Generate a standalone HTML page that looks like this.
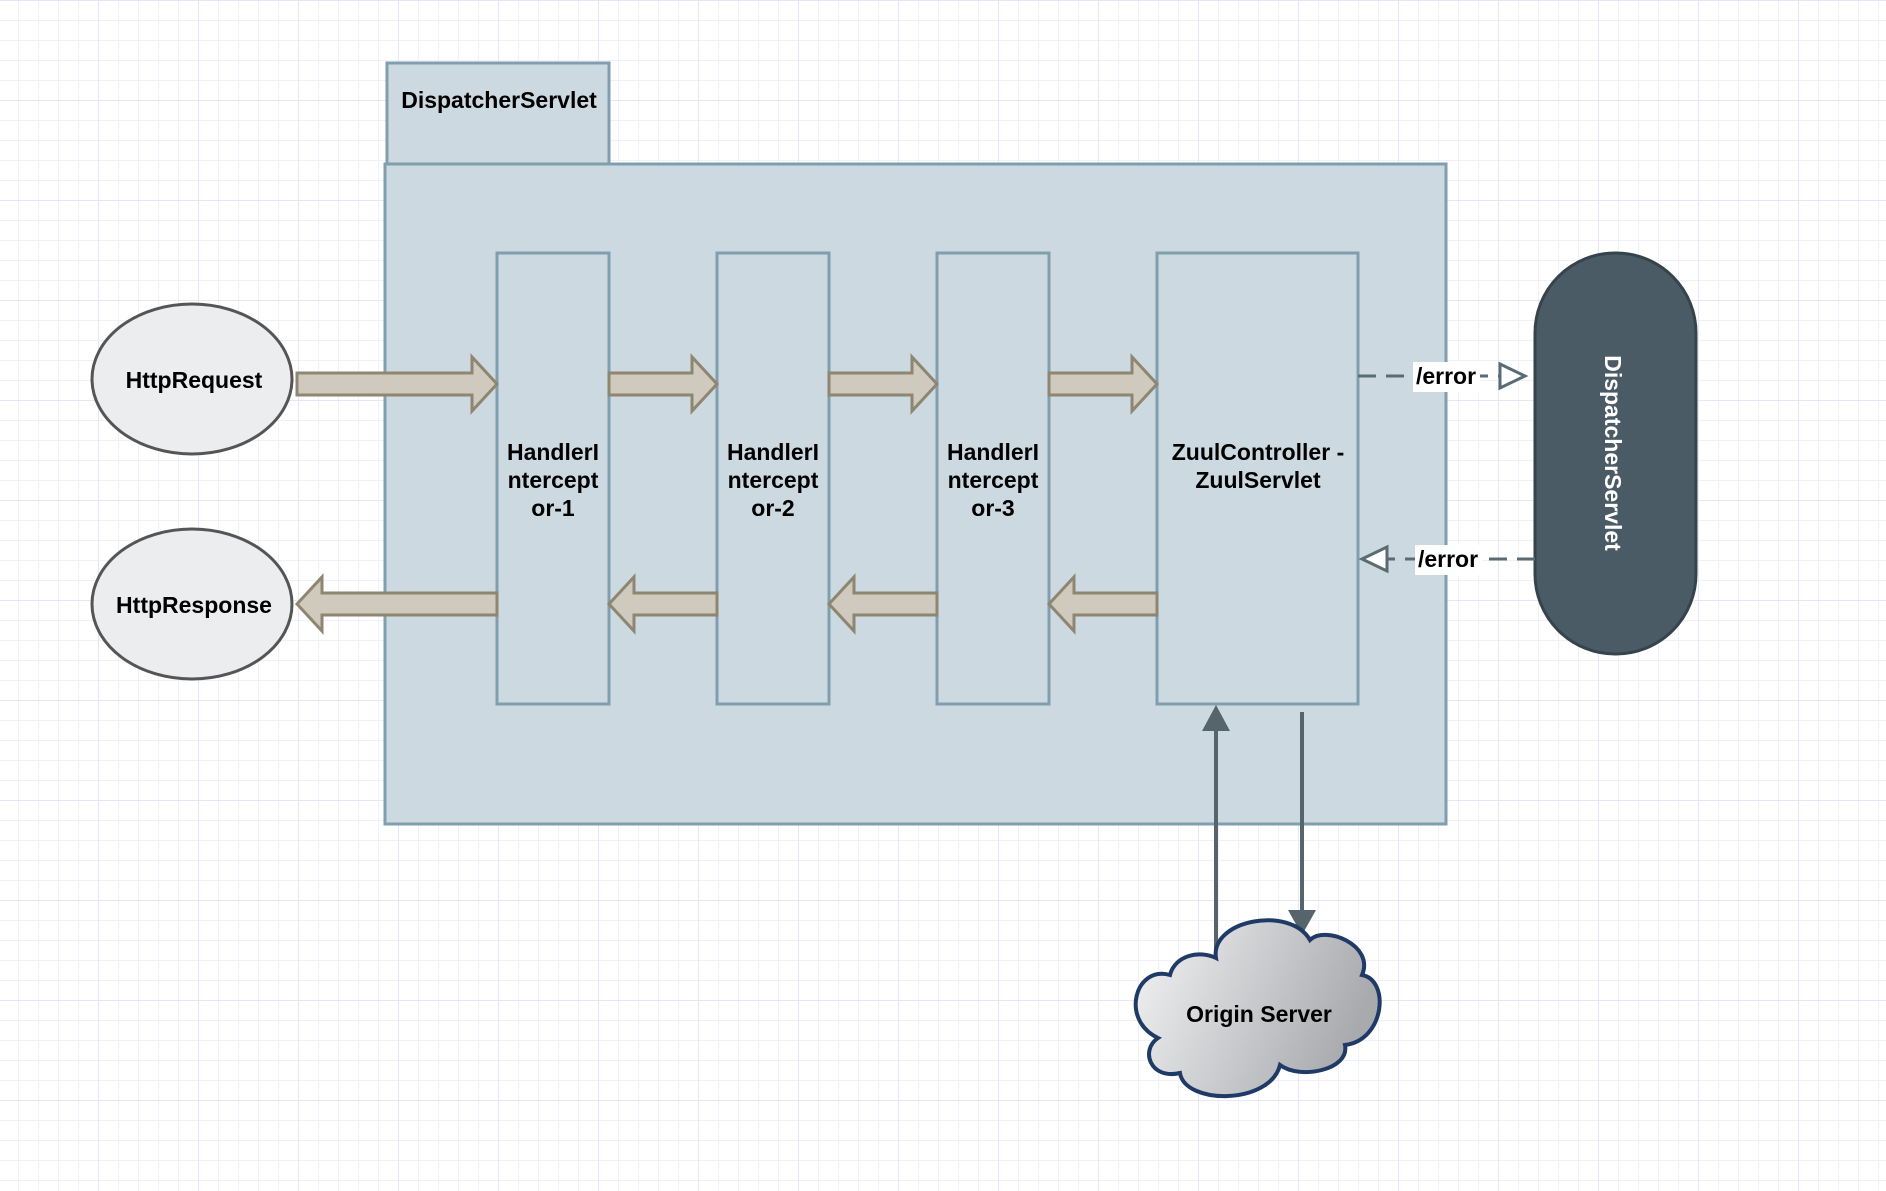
<!DOCTYPE html>
<html><head><style>
html,body{margin:0;padding:0;}
body{width:1886px;height:1186px;overflow:hidden;background:#fff;
background-image:linear-gradient(#e6e6f8 1px,transparent 1px),linear-gradient(90deg,#e6e6f8 1px,transparent 1px),linear-gradient(#f0f0fb 1px,transparent 1px),linear-gradient(90deg,#f0f0fb 1px,transparent 1px);
background-size:100px 100px,100px 100px,20px 20px,20px 20px;background-position:-2px 0,-2px 0,-2px 0,-2px 0;}
svg text{font-family:"Liberation Sans",sans-serif;font-weight:bold;}
</style></head><body>
<svg width="1886" height="1186" xmlns="http://www.w3.org/2000/svg">
<defs>
<linearGradient id="cg" x1="0" y1="0" x2="1" y2="0.3">
<stop offset="0" stop-color="#f4f4f6"/><stop offset="1" stop-color="#a8aaad"/></linearGradient>
</defs>
<rect x="387" y="63" width="222" height="101" fill="#ccd9e0" stroke="#7f9eae" stroke-width="3"/>
<text x="499" y="108" font-size="23" text-anchor="middle">DispatcherServlet</text>
<rect x="385" y="164" width="1061" height="660" fill="#ccd9e0" stroke="#7f9eae" stroke-width="3"/>
<g fill="#ccd9e0" stroke="#7f9eae" stroke-width="3">
<rect x="497" y="253" width="112" height="451"/>
<rect x="717" y="253" width="112" height="451"/>
<rect x="937" y="253" width="112" height="451"/>
<rect x="1157" y="253" width="201" height="451"/>
</g>
<g font-size="23" text-anchor="middle">
<text x="553" y="460">HandlerI</text><text x="553" y="488">ntercept</text><text x="553" y="516">or-1</text>
<text x="773" y="460">HandlerI</text><text x="773" y="488">ntercept</text><text x="773" y="516">or-2</text>
<text x="993" y="460">HandlerI</text><text x="993" y="488">ntercept</text><text x="993" y="516">or-3</text>
<text x="1258" y="460">ZuulController -</text><text x="1258" y="488">ZuulServlet</text>
</g>
<g fill="#ecedee" stroke="#555" stroke-width="3">
<ellipse cx="192" cy="379" rx="100" ry="75"/>
<ellipse cx="192" cy="604" rx="100" ry="75"/>
</g>
<text x="194" y="388" font-size="23" text-anchor="middle">HttpRequest</text>
<text x="194" y="613" font-size="23" text-anchor="middle">HttpResponse</text>
<g fill="#cfcabd" stroke="#8e8670" stroke-width="3">
<polygon points="297,373 472,373 472,357 497,384 472,411 472,395 297,395"/>
<polygon points="609,373 692,373 692,357 717,384 692,411 692,395 609,395"/>
<polygon points="829,373 912,373 912,357 937,384 912,411 912,395 829,395"/>
<polygon points="1049,373 1132,373 1132,357 1157,384 1132,411 1132,395 1049,395"/>
<polygon points="497,593 322,593 322,577 297,604 322,631 322,615 497,615"/>
<polygon points="717,593 634,593 634,577 609,604 634,631 634,615 717,615"/>
<polygon points="937,593 854,593 854,577 829,604 854,631 854,615 937,615"/>
<polygon points="1157,593 1074,593 1074,577 1049,604 1074,631 1074,615 1157,615"/>
</g>
<rect x="1535" y="253" width="161" height="401" rx="80" fill="#4a5b66" stroke="#35434c" stroke-width="3"/>
<text transform="translate(1605,453) rotate(90)" font-size="23" fill="#fff" text-anchor="middle">DispatcherServlet</text>
<g stroke="#5b6b73" stroke-width="3" fill="none">
<line x1="1358" y1="376" x2="1500" y2="376" stroke-dasharray="18,10"/>
<polygon points="1500,364 1525,376 1500,388" fill="#fff"/>
<line x1="1535" y1="559" x2="1387" y2="559" stroke-dasharray="18,10"/>
<polygon points="1387,547 1362,559 1387,571" fill="#fff"/>
</g>
<rect x="1413" y="362" width="67" height="30" fill="#fff"/>
<text x="1446" y="384" font-size="23" text-anchor="middle">/error</text>
<rect x="1415" y="545" width="67" height="30" fill="#fff"/>
<text x="1448" y="567" font-size="23" text-anchor="middle">/error</text>
<g stroke="#56646c" stroke-width="4" fill="#56646c">
<line x1="1216" y1="955" x2="1216" y2="730"/>
<polygon points="1202,731 1216,705 1230,731" stroke="none"/>
<line x1="1302" y1="712" x2="1302" y2="910"/>
<polygon points="1288,910 1302,935 1316,910" stroke="none"/>
</g>
<path d="M1216,958 C1210,920 1290,905 1310,940 C1325,925 1375,945 1362,975 C1390,980 1385,1040 1345,1045 C1350,1070 1300,1080 1280,1065 C1270,1105 1185,1105 1180,1073 C1150,1080 1140,1050 1158,1038 C1120,1020 1135,965 1170,975 C1175,955 1200,950 1216,958 Z" fill="url(#cg)" stroke="#1f3a66" stroke-width="4"/>
<text x="1259" y="1022" font-size="23" text-anchor="middle">Origin Server</text>
</svg>
</body></html>
